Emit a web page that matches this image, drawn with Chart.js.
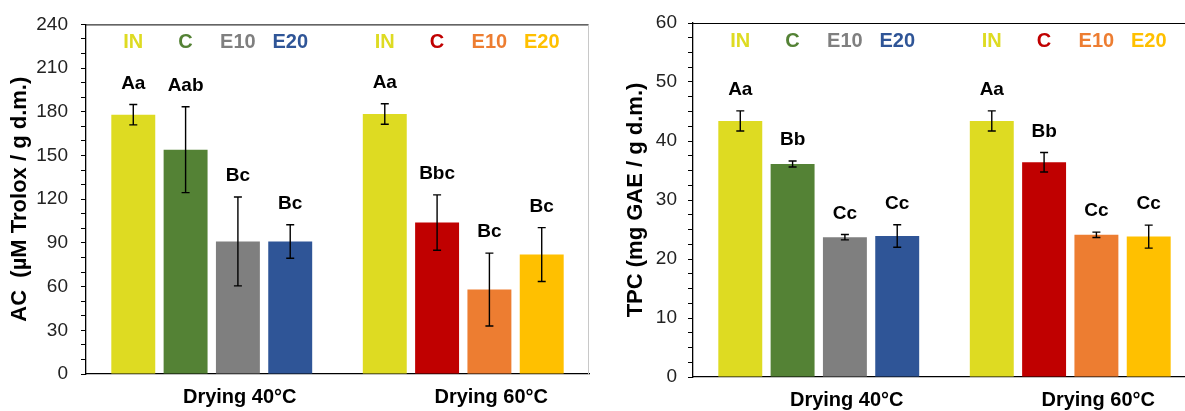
<!DOCTYPE html>
<html>
<head>
<meta charset="utf-8">
<script src="https://cdn.jsdelivr.net/npm/chart.js@4"></script>
<style>
html, body { margin:0; padding:0; background:#fff; overflow:hidden; width:1185px; height:411px; }
.box { position:absolute; top:0; height:411px; }
#leftBox { left:0; width:595px; }
#rightBox { left:600px; width:600px; }
</style>
</head>
<body>
<div class="box" id="leftBox"><canvas id="acChart"></canvas></div>
<div class="box" id="rightBox"><canvas id="tpcChart"></canvas></div>
<script>
'use strict'
// groups and treatments
let groups = ['Drying 40°C', 'Drying 60°C'];
let treatments = ['IN', 'C', 'E10', 'E20'];
let colors40 = ['#DEDB22', '#548235', '#7F7F7F', '#2F5597'];
let colors60 = ['#DEDB22', '#C00000', '#ED7D31', '#FFC000'];

// AC (µM Trolox / g d.m.)
let acMean40 = [178, 154, 91, 91];
let acSd40 = [7, 29.5, 30.5, 11.5];
let acMean60 = [178.5, 104, 58, 82];
let acSd60 = [7, 19, 25, 18.5];
let acLetters40 = ['Aa', 'Aab', 'Bc', 'Bc'];
let acLetters60 = ['Aa', 'Bbc', 'Bc', 'Bc'];
let acTicks = [0, 30, 60, 90, 120, 150, 180, 210, 240];

// TPC (mg GAE / g d.m.)
let tpcMean40 = [43.4, 36.1, 23.7, 23.9];
let tpcSd40 = [1.7, 0.5, 0.45, 1.9];
let tpcMean60 = [43.4, 36.4, 24.1, 23.8];
let tpcSd60 = [1.7, 1.65, 0.45, 1.95];
let tpcLetters40 = ['Aa', 'Bb', 'Cc', 'Cc'];
let tpcLetters60 = ['Aa', 'Bb', 'Cc', 'Cc'];
let tpcTicks = [0, 10, 20, 30, 40, 50, 60];

const FONT = '"Liberation Sans", Arial, sans-serif';

// error bars, letters above bars, coloured names on top, frame
let extrasPlugin = {
    id: 'extras',
    afterDatasetsDraw(chart) {
        let ctx = chart.ctx;
        let area = chart.chartArea;
        let yScale = chart.scales.y;
        ctx.save();
        ctx.lineWidth = 1;
        ctx.strokeStyle = '#000';
        ctx.beginPath();
        ctx.moveTo(area.left, area.top + 0.5);
        ctx.lineTo(area.right, area.top + 0.5);
        ctx.stroke();
        ctx.strokeStyle = '#c8c8c8';
        ctx.beginPath();
        ctx.moveTo(area.right - 0.5, area.top);
        ctx.lineTo(area.right - 0.5, area.bottom);
        ctx.stroke();

        chart.data.datasets.forEach(function (ds, di) {
            let meta = chart.getDatasetMeta(di);
            meta.data.forEach(function (bar, gi) {
                let mean = ds.data[gi];
                let sd = ds.sd[gi];
                let yTop = yScale.getPixelForValue(mean + sd);
                let yBot = yScale.getPixelForValue(mean - sd);
                let x = bar.x;
                ctx.strokeStyle = '#000';
                ctx.lineWidth = 1.4;
                ctx.beginPath();
                ctx.moveTo(x, yTop); ctx.lineTo(x, yBot);
                ctx.moveTo(x - 4, yTop); ctx.lineTo(x + 4, yTop);
                ctx.moveTo(x - 4, yBot); ctx.lineTo(x + 4, yBot);
                ctx.stroke();

                ctx.textAlign = 'center';
                ctx.textBaseline = 'middle';
                ctx.fillStyle = '#000';
                ctx.font = 'bold 19px ' + FONT;
                ctx.fillText(ds.letters[gi], x, yTop - 21);

                ctx.fillStyle = ds.backgroundColor[gi];
                ctx.font = 'bold 20px "Liberation Sans Narrow", ' + FONT;
                ctx.fillText(ds.label, x, area.top + 18);
            });
        });
        ctx.restore();
    }
};

function makeChart(id, means40, sds40, letters40, means60, sds60, letters60, ticks, minorStep, yTitle, layout) {
    let datasets = [];
    for (let i = 0; i < treatments.length; i++) {
        datasets.push({
            label: treatments[i],
            data: [means40[i], means60[i]],
            sd: [sds40[i], sds60[i]],
            letters: [letters40[i], letters60[i]],
            backgroundColor: [colors40[i], colors60[i]],
            borderWidth: 0,
            categoryPercentage: 0.832,
            barPercentage: 0.84
        });
    }
    return new Chart(document.getElementById(id), {
        type: 'bar',
        data: { labels: groups, datasets: datasets },
        plugins: [extrasPlugin],
        options: {
            responsive: true,
            maintainAspectRatio: false,
            animation: false,
            layout: { padding: { top: layout.top, right: layout.right, left: 0, bottom: 0 } },
            plugins: { legend: { display: false }, tooltip: { enabled: false } },
            scales: {
                x: {
                    grid: { display: false, drawTicks: false },
                    border: { display: true, color: '#000', width: 1.3 },
                    ticks: {
                        color: '#000',
                        font: { family: FONT, size: 20, weight: 'bold' },
                        padding: layout.xPad,
                        labelOffset: 28,
                        maxRotation: 0
                    },
                    afterFit: function (scale) { scale.height = layout.xHeight; }
                },
                y: {
                    min: ticks[0],
                    max: ticks[ticks.length - 1],
                    grid: { drawOnChartArea: false, drawTicks: true, tickLength: 5, color: '#000' },
                    border: { display: true, color: '#000', width: 1.3 },
                    ticks: {
                        stepSize: minorStep,
                        autoSkip: false,
                        color: '#222',
                        padding: layout.yPad,
                        font: { family: FONT, size: 19 },
                        callback: function (v) { return ticks.includes(v) ? v : ''; }
                    },
                    title: {
                        display: true,
                        text: yTitle,
                        color: '#000',
                        font: { family: FONT, size: 22, weight: 'bold' },
                        padding: { top: layout.titlePad, bottom: 0 }
                    },
                    afterFit: function (scale) { scale.width = layout.yWidth; }
                }
            }
        }
    });
}

makeChart('acChart', acMean40, acSd40, acLetters40, acMean60, acSd60, acLetters60, acTicks, 10,
    'AC  (µM Trolox / g d.m.)',
    { top: 22, right: 6, xHeight: 37, xPad: 11, yWidth: 86, yPad: 13, titlePad: 7 });

makeChart('tpcChart', tpcMean40, tpcSd40, tpcLetters40, tpcMean60, tpcSd60, tpcLetters60, tpcTicks, 2.5,
    'TPC (mg GAE / g d.m.)',
    { top: 23, right: 4, xHeight: 34, xPad: 11, yWidth: 93, yPad: 11, titlePad: 23 });
</script>
</body>
</html>
